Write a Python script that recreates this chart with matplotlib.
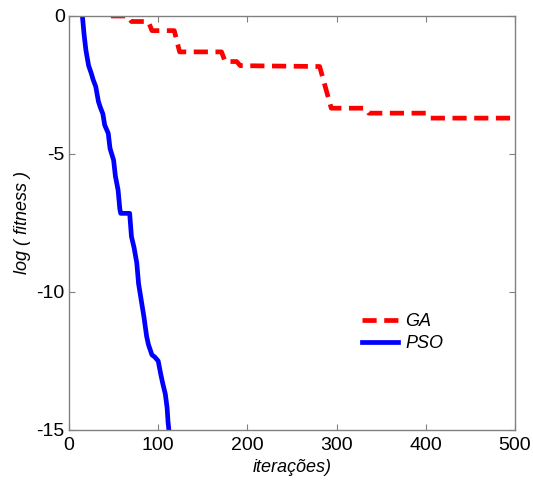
import matplotlib
matplotlib.use("Agg")
import matplotlib.pyplot as plt

# GA best fitness (log)
ga_iter = [47, 66, 70, 89, 93, 118, 124, 171, 175, 188, 192, 281, 294, 332, 336, 401, 405, 500]
ga_fit = [0.0, 0.0, -0.2, -0.2, -0.53, -0.53, -1.3, -1.3, -1.65, -1.65, -1.8, -1.83,
          -3.34, -3.34, -3.52, -3.52, -3.7, -3.7]

# PSO best fitness (log)
pso_iter = [15, 17, 19, 22, 25, 27, 30, 33, 35, 38, 40, 44, 46, 50, 52, 55, 57, 58,
            68, 70, 73, 76, 78, 82, 84, 87, 89, 93, 96, 100, 103, 105, 108, 110, 111, 112]
pso_fit = [0.0, -0.7, -1.25, -1.8, -2.08, -2.3, -2.56, -3.1, -3.3, -3.55, -3.95, -4.25,
           -4.8, -5.22, -5.8, -6.3, -7.0, -7.15, -7.15, -7.99, -8.4, -8.95, -9.7, -10.5,
           -10.9, -11.6, -11.9, -12.28, -12.35, -12.5, -13.0, -13.3, -13.7, -14.2, -14.7, -15.0]

plt.rcParams['font.family'] = ['Liberation Sans', 'DejaVu Sans']
plt.rcParams['axes.unicode_minus'] = False

fig = plt.figure(figsize=(5.33, 4.8), dpi=100)
ax = fig.add_axes([69 / 533, 1 - 430 / 480, 446 / 533, 414 / 480])

ax.plot(ga_iter, ga_fit, color='#ff0000', linestyle='--', linewidth=3.4,
        dashes=(3, 1.6), label='GA')
ax.plot(pso_iter, pso_fit, color='#0000ff', linestyle='-', linewidth=3.4,
        label='PSO')

ax.set_xlim(0, 500)
ax.set_ylim(-15, 0)
ax.set_xticks([0, 100, 200, 300, 400, 500])
ax.set_yticks([-15, -10, -5, 0])

for s in ax.spines.values():
    s.set_color('#808080')
    s.set_linewidth(1.0)
ax.tick_params(direction='in', top=True, right=True, length=4, color='#808080',
               labelsize=14)
ax.tick_params(axis='x', pad=5)
ax.tick_params(axis='y', pad=3)

ax.set_xlabel('iterações)', fontsize=13, style='italic', labelpad=4)
ax.set_ylabel('log ( fitness )', fontsize=13, style='italic', labelpad=4)

ax.legend(loc='upper left', bbox_to_anchor=(0.62, 0.322), frameon=False,
          handlelength=2.0, handletextpad=0.4, labelspacing=0.3,
          prop={'style': 'italic', 'size': 13})

fig.savefig('out.png', dpi=100)
